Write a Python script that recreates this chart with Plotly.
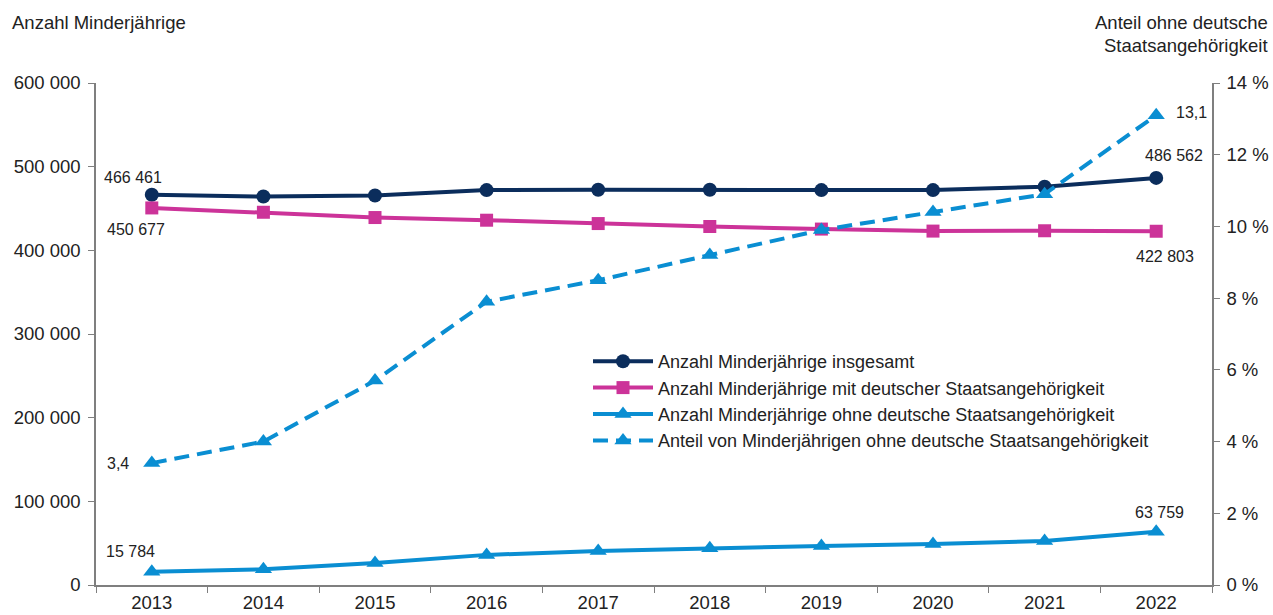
import plotly.graph_objects as go

years = ["2013", "2014", "2015", "2016", "2017", "2018", "2019", "2020", "2021", "2022"]
total = [466461, 464300, 465500, 472000, 472500, 472500, 472000, 472000, 476000, 486562]
german = [450677, 445500, 439200, 436000, 432000, 428500, 425400, 423000, 423400, 422803]
foreign = [15784, 18800, 26300, 36000, 40500, 44000, 46600, 49000, 52600, 63759]
share = [3.4, 4.0, 5.7, 7.9, 8.5, 9.2, 9.9, 10.4, 10.9, 13.1]

names = [
    "Anzahl Minderjährige insgesamt",
    "Anzahl Minderjährige mit deutscher Staatsangehörigkeit",
    "Anzahl Minderjährige ohne deutsche Staatsangehörigkeit",
    "Anteil von Minderjährigen ohne deutsche Staatsangehörigkeit",
]

NAVY = "#0b2d5c"
MAGENTA = "#cc3399"
BLUE = "#0a8ed2"
FONT = "Liberation Sans, Arial, sans-serif"
TXT = "#222222"
AX = "#7f7f7f"
FS = 18.5

fig = go.Figure()
fig.add_trace(go.Scatter(x=years, y=total, name=names[0], mode="lines+markers",
                         line=dict(color=NAVY, width=4),
                         marker=dict(symbol="circle", size=14, color=NAVY)))
fig.add_trace(go.Scatter(x=years, y=german, name=names[1], mode="lines+markers",
                         line=dict(color=MAGENTA, width=4),
                         marker=dict(symbol="square", size=13, color=MAGENTA)))
fig.add_trace(go.Scatter(x=years, y=foreign, name=names[2], mode="lines+markers",
                         line=dict(color=BLUE, width=4),
                         marker=dict(symbol="triangle-up", size=15, color=BLUE)))
fig.add_trace(go.Scatter(x=years, y=share, name=names[3], mode="lines+markers", yaxis="y2",
                         line=dict(color=BLUE, width=4, dash="15px,8px"),
                         marker=dict(symbol="triangle-up", size=15, color=BLUE)))

def fmt(v):
    return f"{v:,}".replace(",", " ")

def fmtp(v):
    return f"{v:.1f}".replace(".", ",")

first, last = 0, len(years) - 1
lab_font = dict(family=FONT, size=16, color=TXT)
labels = [
    (first, total[first], "y", fmt(total[first]), -19, 17),
    (first, german[first], "y", fmt(german[first]), -16, -22),
    (first, foreign[first], "y", fmt(foreign[first]), -21, 20),
    (first, share[first], "y2", fmtp(share[first]), -34, 0),
    (last, total[last], "y", fmt(total[last]), 18, 22),
    (last, german[last], "y", fmt(german[last]), 9, -25),
    (last, foreign[last], "y", fmt(foreign[last]), 3, 19),
    (last, share[last], "y2", fmtp(share[last]), 35, 3),
]
ann = []
for i, v, yr, t, dx, dy in labels:
    ann.append(dict(x=i, y=v, xref="x", yref=yr, text=t, showarrow=False,
                    xshift=dx, yshift=dy, font=lab_font))

L, R, T, B = 96, 61, 83, 30
W, H = 1273, 615
pw, ph = W - L - R, H - T - B

def px2paper(px, py):
    return (px - L) / pw, (H - B - py) / ph

titles = [
    (10, 22, "Anzahl Minderjährige", "left"),
    (1270, 22, "Anteil ohne deutsche", "right"),
    (1270, 45, "Staatsangehörigkeit", "right"),
]
for px, py, t, anc in titles:
    x, y = px2paper(px, py)
    ann.append(dict(x=x, y=y, xref="paper", yref="paper", text=t, showarrow=False,
                    xanchor=anc, yanchor="middle", font=dict(family=FONT, size=FS, color=TXT)))

lx, ly = px2paper(588, 343)

fig.update_layout(
    width=W, height=H,
    margin=dict(l=L, r=R, t=T, b=B, autoexpand=False),
    paper_bgcolor="white", plot_bgcolor="white",
    separators=", ",
    font=dict(family=FONT, size=FS, color=TXT),
    showlegend=True,
    legend=dict(x=lx, y=ly, xanchor="left", yanchor="top",
                bgcolor="rgba(0,0,0,0)", font=dict(family=FONT, size=18, color=TXT),
                tracegroupgap=0, itemwidth=60),
    xaxis=dict(type="category", range=[-0.5, 9.5], showgrid=False, showline=True,
               linecolor=AX, linewidth=1.5, ticks="outside", tickson="boundaries",
               ticklen=6, tickcolor=AX, tickfont=dict(size=FS, color=TXT), automargin=False),
    yaxis=dict(range=[0, 600000], dtick=100000, tickformat=",d", showgrid=False,
               showline=True, linecolor=AX, linewidth=1.5, ticks="outside", ticklen=6,
               tickcolor=AX, tickfont=dict(size=FS, color=TXT), zeroline=False,
               ticklabelstandoff=4, automargin=False),
    yaxis2=dict(range=[0, 14], dtick=2, ticksuffix=" %", overlaying="y", side="right",
                showgrid=False, showline=True, linecolor=AX, linewidth=1.5, ticks="outside",
                ticklen=6, tickcolor=AX, tickfont=dict(size=FS, color=TXT), zeroline=False,
                ticklabelstandoff=3, automargin=False),
    annotations=ann,
)

fig.write_html("out.html", config={"displayModeBar": False},
               post_script="document.body.style.margin='0';")
